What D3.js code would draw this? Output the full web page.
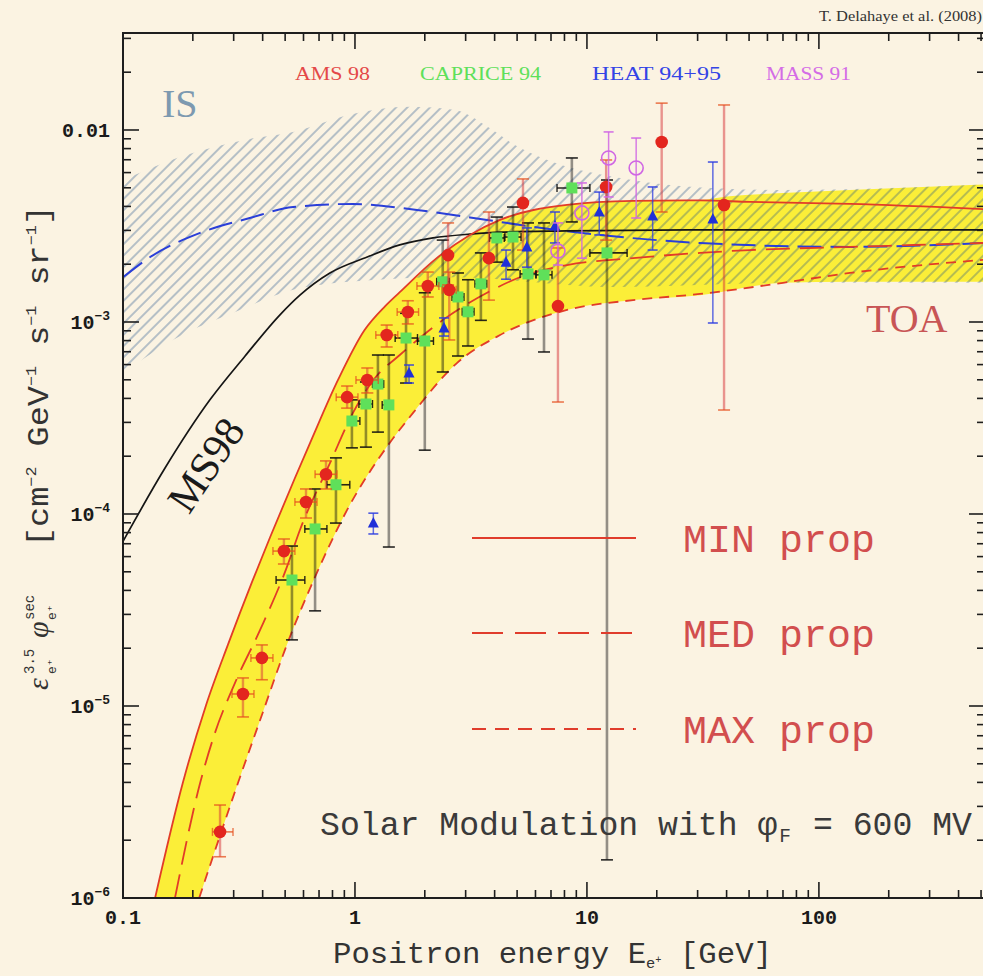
<!DOCTYPE html>
<html>
<head>
<meta charset="utf-8">
<script src="https://cdn.jsdelivr.net/npm/d3@7"></script>
<style>
html, body { margin: 0; padding: 0; background: #fbf3e2; overflow: hidden; }
svg { display: block; }
</style>
</head>
<body>
<div id="chart"></div>
<script>

// TOA band (yellow)
const toaUpper = [[0.1375,1e-6],[0.181,3.97e-6],[0.228,1.01e-5],[0.284,2.10e-5],[0.36,4.43e-5],[0.431,7.59e-5],[0.551,1.54e-4],[0.64,2.34e-4],[0.845,4.99e-4],[1.10,9.08e-4],[1.35,1.21e-3],[1.56,1.43e-3],[2.25,2.15e-3],[3.13,2.84e-3],[4.22,3.40e-3],[8.2,4.07e-3],[15.8,4.27e-3],[30.7,4.32e-3],[40,4.5e-3],[70,4.70e-3],[136,4.87e-3],[520,5.2e-3]];
const toaLower = [[0.213,1e-6],[0.313,3.97e-6],[0.397,8.98e-6],[0.499,1.96e-5],[0.694,5.11e-5],[0.925,1.05e-4],[1.37,2.23e-4],[1.78,3.36e-4],[2.75,6.11e-4],[4.22,8.55e-4],[8.2,1.155e-3],[15.8,1.30e-3],[30.7,1.38e-3],[70,1.60e-3],[136,1.62e-3],[520,1.62e-3]];

// propagation benchmarks
const minProp = [[0.1375,1e-6],[0.181,3.97e-6],[0.228,1.01e-5],[0.284,2.10e-5],[0.36,4.43e-5],[0.431,7.59e-5],[0.551,1.54e-4],[0.64,2.34e-4],[0.845,4.99e-4],[1.10,9.08e-4],[1.35,1.21e-3],[1.56,1.43e-3],[2.25,2.15e-3],[3.13,2.84e-3],[4.22,3.40e-3],[8.2,4.07e-3],[15.8,4.27e-3],[30.7,4.30e-3],[50.4,4.22e-3],[136,4.12e-3],[520,3.87e-3]];
const medProp = [[0.1675,1e-6],[0.215,3.97e-6],[0.249,7.23e-6],[0.304,1.32e-5],[0.39,2.49e-5],[0.509,5.3e-5],[0.579,8.25e-5],[0.78,1.84e-4],[0.98,3.36e-4],[1.22,5.11e-4],[1.56,6.73e-4],[2.49,1.06e-3],[3.71,1.42e-3],[5.14,1.71e-3],[8.2,1.98e-3],[15.8,2.15e-3],[30.7,2.29e-3],[50.4,2.37e-3],[136,2.46e-3],[520,2.58e-3]];
const maxProp = [[0.213,1e-6],[0.313,3.97e-6],[0.397,8.98e-6],[0.499,1.96e-5],[0.694,5.11e-5],[0.925,1.05e-4],[1.37,2.23e-4],[1.78,3.36e-4],[2.75,6.11e-4],[4.22,8.55e-4],[8.2,1.155e-3],[15.8,1.30e-3],[30.7,1.40e-3],[70,1.60e-3],[136,1.80e-3],[520,2.11e-3]];

// MS98 (black) and interstellar MS98 (blue dashed)
const ms98 = [[0.1,7.2e-5],[0.152,1.74e-4],[0.237,3.93e-4],[0.336,6.65e-4],[0.475,1.09e-3],[0.579,1.38e-3],[0.78,1.80e-3],[1.13,2.18e-3],[1.56,2.52e-3],[2.17,2.74e-3],[3.13,2.87e-3],[4.22,2.94e-3],[8.2,2.98e-3],[30.7,3.02e-3],[520,3.02e-3]];
const ms98IS = [[0.1,1.71e-3],[0.131,2.18e-3],[0.215,2.91e-3],[0.352,3.48e-3],[0.541,3.97e-3],[0.98,4.12e-3],[1.85,3.83e-3],[3.71,3.40e-3],[5.85,3.13e-3],[11.4,2.84e-3],[30.7,2.58e-3],[136,2.46e-3],[520,2.58e-3]];

// IS band (hatched)
const isUpper = [[0.1,5.49e-3],[0.171,7.15e-3],[0.352,8.98e-3],[0.541,9.77e-3],[0.95,1.20e-2],[1.73,1.32e-2],[2.70,1.27e-2],[3.82,1.02e-2],[4.89,8.35e-3],[7.13,6.81e-3],[13.9,5.62e-3],[25.2,5.11e-3],[70,4.87e-3],[520,5.2e-3]];
const isLower = [[0.1,5.42e-4],[0.164,8.06e-4],[0.319,1.155e-3],[0.541,1.47e-3],[1.24,1.66e-3],[2.57,1.71e-3],[13.5,1.52e-3],[70,1.60e-3],[520,1.60e-3]];

// data : [E, value, low, high, Elow, Ehigh]
const ams98 = [
  [0.262,2.21e-6,1.64e-6,3.05e-6,0.243,0.298],
  [0.329,1.155e-5,8.77e-6,1.40e-5,0.295,0.367],
  [0.397,1.78e-5,1.37e-5,2.08e-5,0.356,0.443],
  [0.494,6.41e-5,5.49e-5,7.41e-5,0.443,0.551],
  [0.615,1.155e-4,9.53e-5,1.35e-4,0.551,0.686],
  [0.750,1.61e-4,1.35e-4,1.89e-4,0.673,0.836],
  [0.925,4.06e-4,3.56e-4,4.64e-4,0.830,1.03],
  [1.13,4.99e-4,4.27e-4,5.76e-4,1.01,1.26],
  [1.37,8.55e-4,7.41e-4,9.64e-4,1.23,1.53],
  [1.69,1.127e-3,9.77e-4,1.29e-3,1.52,1.88],
  [2.06,1.54e-3,1.35e-3,1.82e-3,1.85,2.30],
  [2.52,2.23e-3,1.56e-3,3.28e-3,2.52,2.52],
  [2.55,1.47e-3,8.06e-4,1.82e-3,2.38,2.73],
  [3.78,2.15e-3,1.30e-3,3.74e-3,3.78,3.78],
  [5.30,4.17e-3,2.37e-3,5.56e-3,5.30,5.30],
  [7.50,1.21e-3,3.83e-4,2.43e-3,7.50,7.50],
  [12.1,5.05e-3,2.67e-3,6.98e-3,12.1,12.1],
  [21.0,8.66e-3,3.74e-3,1.38e-2,21.0,21.0],
  [39.0,4.07e-3,3.48e-4,1.35e-2,39.0,39.0]
];
const caprice94 = [
  [0.535,4.53e-5,2.21e-5,6.81e-5,0.457,0.608],
  [0.673,8.36e-5,3.13e-5,1.35e-4,0.608,0.757],
  [0.828,1.42e-4,8.97e-5,1.96e-4,0.757,0.95],
  [0.97,3.05e-4,2.21e-4,3.93e-4,0.93,1.05],
  [1.115,3.74e-4,2.23e-4,4.87e-4,1.04,1.19],
  [1.256,4.75e-4,2.67e-4,6.73e-4,1.19,1.33],
  [1.40,3.70e-4,6.73e-5,6.73e-4,1.31,1.46],
  [1.66,8.25e-4,4.81e-4,1.11e-3,1.49,1.86],
  [2.00,7.96e-4,2.15e-4,1.42e-3,1.86,2.18],
  [2.39,1.62e-3,5.49e-4,2.67e-3,2.25,2.55],
  [2.78,1.35e-3,6.65e-4,1.80e-3,2.62,2.95],
  [3.07,1.13e-3,7.50e-4,1.66e-3,2.90,3.26],
  [3.49,1.58e-3,1.02e-3,2.29e-3,3.29,3.70],
  [4.09,2.74e-3,2.05e-3,3.52e-3,3.80,4.40],
  [4.80,2.77e-3,1.87e-3,3.97e-3,4.43,5.20],
  [5.57,1.78e-3,8.15e-4,3.28e-3,5.15,6.03],
  [6.53,1.76e-3,6.98e-4,3.28e-3,6.03,7.07],
  [8.61,4.99e-3,3.32e-3,7.15e-3,7.43,10.3],
  [12.2,2.29e-3,1.58e-6,5.49e-3,10.3,14.9]
];
const heat9495 = [
  [1.20,8.97e-5,7.87e-5,1.01e-4],
  [1.71,5.42e-4,4.81e-4,5.97e-4],
  [2.42,9.31e-4,8.45e-4,1.05e-3],
  [4.48,2.05e-3,1.67e-3,2.37e-3],
  [5.51,2.46e-3,1.93e-3,3.09e-3],
  [7.28,3.16e-3,2.58e-3,3.74e-3],
  [11.3,3.74e-3,2.84e-3,4.75e-3],
  [19.2,3.56e-3,2.37e-3,5.05e-3],
  [34.9,3.44e-3,9.88e-4,6.81e-3]
];
const mass91 = [
  [7.50,2.34e-3,1.98e-3,3.28e-3],
  [9.51,3.70e-3,2.15e-3,5.30e-3],
  [12.4,7.15e-3,4.48e-3,9.77e-3],
  [16.3,6.34e-3,3.48e-3,9.08e-3]
];

// ticks
const xMajor = [0.1, 1, 10, 100];
const xMajorLabels = ["0.1", "1", "10", "100"];
const yMajor = [0.01, 1e-3, 1e-4, 1e-5, 1e-6];
const yMajorBase = ["0.01", "10", "10", "10", "10"];
const yMajorExp = ["", "-3", "-4", "-5", "-6"];

// ---- drawing ----
const W = 983, H = 976;
const L = 123, R = 985, T = 33, B = 898;

const svg = d3.select("#chart").append("svg")
    .attr("width", W).attr("height", H);

svg.append("rect").attr("width", W).attr("height", H).attr("fill", "#fbf3e2");

const x = d3.scaleLog().domain([0.1, 520]).range([L, R]);
const y = d3.scaleLog().domain([1e-6, 0.032]).range([B, T]);

const defs = svg.append("defs");
defs.append("clipPath").attr("id", "plotclip")
    .append("rect").attr("x", L).attr("y", T).attr("width", R - L).attr("height", B - T);

const pat = defs.append("pattern").attr("id", "hatch")
    .attr("patternUnits", "userSpaceOnUse")
    .attr("width", 8).attr("height", 8)
    .attr("patternTransform", "rotate(45)");
pat.append("line")
    .attr("x1", 4).attr("y1", 0).attr("x2", 4).attr("y2", 8)
    .attr("stroke", "#1d4f8a")
    .attr("stroke-opacity", 0.58)
    .attr("stroke-width", 1.1);

const curve = d3.line()
    .x(d => x(d[0]))
    .y(d => y(d[1]))
    .curve(d3.curveMonotoneX);

function bandPath(up, low) {
    const a = curve(up);
    const b = curve(low.slice().reverse()).replace(/^M/, "L");
    return a + b + "Z";
}

const plot = svg.append("g").attr("clip-path", "url(#plotclip)");

// yellow TOA band
plot.append("path")
    .attr("d", bandPath(toaUpper, toaLower))
    .attr("fill", "#fbee38");

// IS hatched band
plot.append("path")
    .attr("d", bandPath(isUpper, isLower))
    .attr("fill", "url(#hatch)");

// model curves
plot.append("path").datum(ms98IS)
    .attr("d", curve).attr("fill", "none")
    .attr("stroke", "#2a3fd8").attr("stroke-width", 2)
    .attr("stroke-dasharray", "24,9");

plot.append("path").datum(ms98)
    .attr("d", curve).attr("fill", "none")
    .attr("stroke", "#151515").attr("stroke-width", 1.7);

plot.append("path").datum(minProp)
    .attr("d", curve).attr("fill", "none")
    .attr("stroke", "#e23c28").attr("stroke-width", 1.8);

plot.append("path").datum(medProp)
    .attr("d", curve).attr("fill", "none")
    .attr("stroke", "#e23c28").attr("stroke-width", 1.8)
    .attr("stroke-dasharray", "24,10");

plot.append("path").datum(maxProp)
    .attr("d", curve).attr("fill", "none")
    .attr("stroke", "#e23c28").attr("stroke-width", 1.8)
    .attr("stroke-dasharray", "10,7");

// error bars helper
function drawBars(g, data, c) {
    g.selectAll(null).data(data).join("line")
        .attr("x1", d => x(d[0])).attr("x2", d => x(d[0]))
        .attr("y1", d => y(d[2])).attr("y2", d => y(d[3]))
        .attr("stroke", c.bar).attr("stroke-opacity", c.barOp)
        .attr("stroke-width", c.bw);
    [2, 3].forEach(k => {
        g.selectAll(null).data(data).join("line")
            .attr("x1", d => x(d[0]) - c.cap).attr("x2", d => x(d[0]) + c.cap)
            .attr("y1", d => y(d[k])).attr("y2", d => y(d[k]))
            .attr("stroke", c.capColor).attr("stroke-opacity", c.capOp)
            .attr("stroke-width", 1.6);
    });
    if (c.xbars) {
        const xd = data.filter(d => d[5] > d[4]);
        g.selectAll(null).data(xd).join("line")
            .attr("x1", d => x(d[4])).attr("x2", d => x(d[5]))
            .attr("y1", d => y(d[1])).attr("y2", d => y(d[1]))
            .attr("stroke", c.capColor).attr("stroke-opacity", c.capOp)
            .attr("stroke-width", 1.6);
        [4, 5].forEach(k => {
            g.selectAll(null).data(xd).join("line")
                .attr("x1", d => x(d[k])).attr("x2", d => x(d[k]))
                .attr("y1", d => y(d[1]) - 4).attr("y2", d => y(d[1]) + 4)
                .attr("stroke", c.capColor).attr("stroke-opacity", c.capOp)
                .attr("stroke-width", 1.4);
        });
    }
}

const pts = svg.append("g").attr("clip-path", "url(#plotclip)");

// CAPRICE 94
const gCap = pts.append("g");
drawBars(gCap, caprice94, { bar: "#141414", barOp: 0.45, bw: 2.6, cap: 6, capColor: "#111", capOp: 0.9, xbars: true });
gCap.selectAll("rect").data(caprice94).join("rect")
    .attr("x", d => x(d[0]) - 5.5).attr("y", d => y(d[1]) - 5.5)
    .attr("width", 11).attr("height", 11)
    .attr("fill", "#5fe05a");

// AMS 98
const gAms = pts.append("g");
drawBars(gAms, ams98, { bar: "#d83438", barOp: 0.5, bw: 2.4, cap: 6, capColor: "#e6501e", capOp: 0.75, xbars: true });
gAms.selectAll("circle").data(ams98).join("circle")
    .attr("cx", d => x(d[0])).attr("cy", d => y(d[1]))
    .attr("r", 6.3).attr("fill", "#e3261e");

// HEAT 94+95
const gHeat = pts.append("g");
drawBars(gHeat, heat9495, { bar: "#2b3ce0", barOp: 0.75, bw: 1.5, cap: 5, capColor: "#2b3ce0", capOp: 0.85, xbars: false });
gHeat.selectAll("path").data(heat9495).join("path")
    .attr("transform", d => `translate(${x(d[0])},${y(d[1])})`)
    .attr("d", "M0,-6L5.5,4.5L-5.5,4.5Z")
    .attr("fill", "#2030d8");

// MASS 91
const gMass = pts.append("g");
drawBars(gMass, mass91, { bar: "#d066e4", barOp: 0.85, bw: 1.5, cap: 5, capColor: "#d066e4", capOp: 0.9, xbars: false });
gMass.selectAll("circle").data(mass91).join("circle")
    .attr("cx", d => x(d[0])).attr("cy", d => y(d[1]))
    .attr("r", 7).attr("fill", "none")
    .attr("stroke", "#d066e4").attr("stroke-width", 1.6);

// ---- frame and ticks ----
const axisG = svg.append("g").attr("stroke", "#1e1e1e");
axisG.append("rect")
    .attr("x", L).attr("y", T).attr("width", R - L).attr("height", B - T)
    .attr("fill", "none").attr("stroke-width", 2);

const isMajor = v => Math.abs(Math.log10(v) - Math.round(Math.log10(v))) < 1e-6;
const xt = x.ticks();
const yt = y.ticks();

xt.forEach(t => {
    const len = isMajor(t) ? 16 : 8;
    axisG.append("line").attr("x1", x(t)).attr("x2", x(t))
        .attr("y1", B).attr("y2", B - len).attr("stroke-width", 1.6);
    axisG.append("line").attr("x1", x(t)).attr("x2", x(t))
        .attr("y1", T).attr("y2", T + len).attr("stroke-width", 1.6);
});
yt.forEach(t => {
    const len = isMajor(t) ? 16 : 8;
    axisG.append("line").attr("y1", y(t)).attr("y2", y(t))
        .attr("x1", L).attr("x2", L + len).attr("stroke-width", 1.6);
    axisG.append("line").attr("y1", y(t)).attr("y2", y(t))
        .attr("x1", R).attr("x2", R - len).attr("stroke-width", 1.6);
});

const tickFont = "'Liberation Mono', monospace";
svg.append("g").selectAll("text").data(xMajor).join("text")
    .attr("x", d => x(d)).attr("y", 924)
    .attr("text-anchor", "middle")
    .attr("font-family", tickFont).attr("font-weight", "bold")
    .attr("font-size", 20).attr("fill", "#1a1a1a")
    .text((d, i) => xMajorLabels[i]);

const yl = svg.append("g").selectAll("text").data(yMajor).join("text")
    .attr("x", 110).attr("y", d => y(d) + 7)
    .attr("text-anchor", "end")
    .attr("font-family", tickFont).attr("font-weight", "bold")
    .attr("font-size", 20).attr("fill", "#1a1a1a");
yl.append("tspan").text((d, i) => yMajorBase[i]);
yl.append("tspan").attr("font-size", 13).attr("dy", -9)
    .text((d, i) => yMajorExp[i].replace("-", "\u2212"));

// ---- legend and annotations ----
const mono = "'Liberation Mono', monospace";
const serif = "'Liberation Serif', 'Times New Roman', serif";

const legendRows = [
    { label: "MIN prop", dash: null, y: 538 },
    { label: "MED prop", dash: "31,12", y: 633 },
    { label: "MAX prop", dash: "14,9", y: 729 }
];
legendRows.forEach(r => {
    const ln = svg.append("line")
        .attr("x1", 472).attr("x2", 636).attr("y1", r.y).attr("y2", r.y)
        .attr("stroke", "#e03c2c").attr("stroke-width", 1.8);
    if (r.dash) ln.attr("stroke-dasharray", r.dash);
    svg.append("text")
        .attr("x", 683).attr("y", r.y + 14)
        .attr("font-family", mono).attr("font-size", 39)
        .attr("fill", "#d24e4e")
        .attr("textLength", 192).attr("lengthAdjust", "spacingAndGlyphs")
        .text(r.label);
});

const solar = svg.append("text")
    .attr("x", 320).attr("y", 835)
    .attr("font-family", mono).attr("font-size", 34)
    .attr("fill", "#3a3a3a")
    .attr("textLength", 652).attr("lengthAdjust", "spacingAndGlyphs");
solar.append("tspan").text("Solar Modulation with \u03c6");
solar.append("tspan").attr("font-size", 20).attr("dx", 2).attr("dy", 7).text("F");
solar.append("tspan").attr("dx", 2).attr("dy", -7).text(" = 600 MV");

const xlab = svg.append("text")
    .attr("x", 333).attr("y", 963)
    .attr("font-family", mono).attr("font-size", 30)
    .attr("fill", "#333")
    .attr("textLength", 439).attr("lengthAdjust", "spacingAndGlyphs");
xlab.append("tspan").text("Positron energy E");
xlab.append("tspan").attr("font-size", 15).attr("dy", 5).text("e");
xlab.append("tspan").attr("font-size", 10).attr("dy", -5).text("+");
xlab.append("tspan").text("  [GeV]");

// y label (rotated)
const ylab = svg.append("g").attr("transform", "translate(48,690) rotate(-90)")
    .attr("fill", "#333");
ylab.append("text").attr("x", 0).attr("y", 0)
    .attr("font-family", serif).attr("font-style", "italic").attr("font-size", 30)
    .text("\u03b5");
ylab.append("text").attr("x", 16).attr("y", -14)
    .attr("font-family", mono).attr("font-size", 14).text("3.5");
ylab.append("text").attr("x", 16).attr("y", 8)
    .attr("font-family", mono).attr("font-size", 13).text("e\u207a");
ylab.append("text").attr("x", 52).attr("y", 0)
    .attr("font-family", serif).attr("font-style", "italic").attr("font-size", 30)
    .text("\u03c6");
ylab.append("text").attr("x", 70).attr("y", -14)
    .attr("font-family", mono).attr("font-size", 14).text("sec");
ylab.append("text").attr("x", 70).attr("y", 8)
    .attr("font-family", mono).attr("font-size", 13).text("e\u207a");
const unit = ylab.append("text").attr("x", 143).attr("y", 0)
    .attr("font-family", mono).attr("font-size", 30)
    .attr("textLength", 342).attr("lengthAdjust", "spacingAndGlyphs");
unit.append("tspan").text("[cm");
unit.append("tspan").attr("font-size", 15).attr("dy", -12).text("\u22122");
unit.append("tspan").attr("dy", 12).text(" GeV");
unit.append("tspan").attr("font-size", 15).attr("dy", -12).text("\u22121");
unit.append("tspan").attr("dy", 12).text(" s");
unit.append("tspan").attr("font-size", 15).attr("dy", -12).text("\u22121");
unit.append("tspan").attr("dy", 12).text(" sr");
unit.append("tspan").attr("font-size", 15).attr("dy", -12).text("\u22121");
unit.append("tspan").attr("dy", 12).text("]");

// dataset names on top
const sets = [
    { name: "AMS 98", x: 295, w: 75, c: "#e44848" },
    { name: "CAPRICE 94", x: 420, w: 121, c: "#5ee05a" },
    { name: "HEAT 94+95", x: 592, w: 129, c: "#3344e6" },
    { name: "MASS 91", x: 766, w: 85, c: "#d46ce6" }
];
svg.append("g").selectAll("text").data(sets).join("text")
    .attr("x", d => d.x).attr("y", 80)
    .attr("font-family", serif).attr("font-size", 19)
    .attr("fill", d => d.c)
    .attr("textLength", d => d.w).attr("lengthAdjust", "spacingAndGlyphs")
    .text(d => d.name);

svg.append("text")
    .attr("x", 982).attr("y", 21).attr("text-anchor", "end")
    .attr("font-family", serif).attr("font-size", 14)
    .attr("fill", "#333")
    .attr("textLength", 163).attr("lengthAdjust", "spacingAndGlyphs")
    .text("T. Delahaye et al. (2008)");

svg.append("text")
    .attr("x", 162).attr("y", 117)
    .attr("font-family", serif).attr("font-size", 40)
    .attr("fill", "#7d99b0")
    .text("IS");

svg.append("text")
    .attr("x", 866).attr("y", 332)
    .attr("font-family", serif).attr("font-size", 40)
    .attr("fill", "#c85555")
    .text("TOA");

svg.append("text")
    .attr("transform", "translate(206,465) rotate(-56)")
    .attr("text-anchor", "middle").attr("dominant-baseline", "central")
    .attr("font-family", serif).attr("font-size", 42)
    .attr("fill", "#1a1a1a")
    .text("MS98");
</script>
</body>
</html>
